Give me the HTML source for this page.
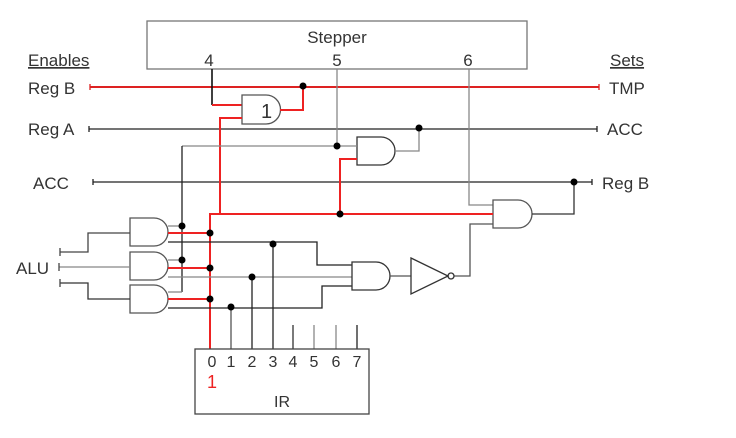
<!DOCTYPE html>
<html><head><meta charset="utf-8"><style>
html,body{margin:0;padding:0;background:#fff;width:736px;height:438px;overflow:hidden}
svg{display:block}
text{font-family:"Liberation Sans",sans-serif;fill:#333}
</style></head><body>
<svg width="736" height="438" viewBox="0 0 736 438" xmlns="http://www.w3.org/2000/svg">
<g fill="none" stroke-width="1.3">
<rect x="147" y="21" width="380" height="48" stroke="#777"/>
<line x1="90" y1="87" x2="599" y2="87" stroke="#d22" stroke-width="2"/>
<line x1="90" y1="84" x2="90" y2="90" stroke="#d22"/><line x1="599" y1="84" x2="599" y2="90" stroke="#d22"/>
<line x1="89" y1="129" x2="597" y2="129" stroke="#222"/>
<line x1="89" y1="126" x2="89" y2="132" stroke="#222"/><line x1="597" y1="126" x2="597" y2="132" stroke="#222"/>
<line x1="93" y1="182" x2="592" y2="182" stroke="#222"/>
<line x1="93" y1="179" x2="93" y2="185" stroke="#222"/><line x1="592" y1="179" x2="592" y2="185" stroke="#222"/>
<polyline points="212,69 212,105" stroke="#111" stroke-width="1.6"/>
<polyline points="212,105 242,105" stroke="#e22" stroke-width="2"/>
<polyline points="337,69 337,146" stroke="#888"/>
<polyline points="469,69 469,205 493,205" stroke="#888"/>
<path d="M242 95 h24 a14.5 14.5 0 0 1 0 29 h-24 z" stroke="#555"/>
<polyline points="280,110 303,110 303,87" stroke="#e22" stroke-width="2"/>
<polyline points="242,118 220,118 220,214" stroke="#e22" stroke-width="2"/>
<path d="M357 137 h24 a14 14 0 0 1 0 28 h-24 z" stroke="#333"/>
<polyline points="395,151 419,151 419,129" stroke="#888"/>
<polyline points="182,146 357,146" stroke="#888"/>
<line x1="182" y1="146" x2="182" y2="292" stroke="#222"/>
<polyline points="357,159 340,159 340,214" stroke="#e22" stroke-width="2"/>
<path d="M493 200 h25 a14 14 0 0 1 0 28 h-25 z" stroke="#555"/>
<polyline points="532,214 574,214 574,182" stroke="#333"/>
<polyline points="493,224 470,224 470,276 454,276" stroke="#555"/>
<polyline points="210,349 210,214 493,214" stroke="#e22" stroke-width="2"/>
<path d="M130 218 h24 a14 14 0 0 1 0 28 h-24 z" stroke="#555"/>
<path d="M130 252 h24 a14 14 0 0 1 0 28 h-24 z" stroke="#555"/>
<path d="M130 285 h24 a14 14 0 0 1 0 28 h-24 z" stroke="#555"/>
<polyline points="60,252 88,252 88,233 130,233" stroke="#444"/>
<line x1="60" y1="248" x2="60" y2="256" stroke="#444"/>
<line x1="59" y1="267" x2="130" y2="267" stroke="#888"/>
<line x1="59" y1="263" x2="59" y2="271" stroke="#444"/>
<polyline points="60,283 88,283 88,299 130,299" stroke="#333"/>
<line x1="60" y1="279" x2="60" y2="287" stroke="#444"/>
<line x1="168" y1="226" x2="182" y2="226" stroke="#888"/>
<line x1="168" y1="233" x2="210" y2="233" stroke="#e22" stroke-width="2"/>
<polyline points="168,242 317,242 317,265 352,265" stroke="#222"/>
<line x1="168" y1="260" x2="182" y2="260" stroke="#888"/>
<line x1="168" y1="268" x2="210" y2="268" stroke="#e22" stroke-width="2"/>
<line x1="168" y1="277" x2="352" y2="277" stroke="#888"/>
<line x1="168" y1="292" x2="182" y2="292" stroke="#888"/>
<line x1="168" y1="299" x2="210" y2="299" stroke="#e22" stroke-width="2"/>
<polyline points="168,308 322,308 322,286 352,286" stroke="#222"/>
<path d="M352 262 h24 a14 14 0 0 1 0 28 h-24 z" stroke="#333"/>
<line x1="390" y1="276" x2="411" y2="276" stroke="#555"/>
<path d="M411 258 L448 276 L411 294 z" stroke="#333"/>
<circle cx="451" cy="276" r="3" stroke="#333"/>
<line x1="231" y1="308" x2="231" y2="349" stroke="#555"/>
<line x1="252" y1="277" x2="252" y2="349" stroke="#222"/>
<line x1="273" y1="244" x2="273" y2="349" stroke="#222"/>
<line x1="293" y1="325" x2="293" y2="349" stroke="#333"/>
<line x1="314" y1="325" x2="314" y2="349" stroke="#888"/>
<line x1="336" y1="325" x2="336" y2="349" stroke="#888"/>
<line x1="357" y1="325" x2="357" y2="349" stroke="#222"/>
<rect x="195" y="349" width="174" height="65" stroke="#444"/>
</g>
<g fill="#000">
<circle cx="303" cy="86" r="3.5"/><circle cx="419" cy="128" r="3.5"/><circle cx="337" cy="146" r="3.5"/>
<circle cx="574" cy="182" r="3.5"/><circle cx="340" cy="214" r="3.5"/>
<circle cx="182" cy="226" r="3.5"/><circle cx="182" cy="260" r="3.5"/>
<circle cx="210" cy="233" r="3.5"/><circle cx="210" cy="268" r="3.5"/><circle cx="210" cy="299" r="3.5"/>
<circle cx="273" cy="244" r="3.5"/><circle cx="252" cy="277" r="3.5"/><circle cx="231" cy="307" r="3.5"/>
</g>
<g font-size="17">
<text x="337" y="43" text-anchor="middle">Stepper</text>
<text x="209" y="66" text-anchor="middle">4</text>
<text x="337" y="66" text-anchor="middle">5</text>
<text x="468" y="66" text-anchor="middle">6</text>
<text x="28" y="66" text-decoration="underline">Enables</text>
<text x="610" y="66" text-decoration="underline">Sets</text>
<text x="28" y="94">Reg B</text>
<text x="28" y="135">Reg A</text>
<text x="33" y="189">ACC</text>
<text x="609" y="94">TMP</text>
<text x="607" y="135">ACC</text>
<text x="602" y="189">Reg B</text>
<text x="16" y="274">ALU</text>
</g>
<g font-size="16">
<text x="212" y="367" text-anchor="middle">0</text>
<text x="231" y="367" text-anchor="middle">1</text>
<text x="252" y="367" text-anchor="middle">2</text>
<text x="273" y="367" text-anchor="middle">3</text>
<text x="293" y="367" text-anchor="middle">4</text>
<text x="314" y="367" text-anchor="middle">5</text>
<text x="336" y="367" text-anchor="middle">6</text>
<text x="357" y="367" text-anchor="middle">7</text>
<text x="282" y="407" text-anchor="middle">IR</text>
<text x="212" y="388" text-anchor="middle" style="fill:#e22" font-family="Liberation Mono" font-size="18">1</text>
</g>
<text x="261" y="118" font-family="Liberation Sans" font-size="20">1</text>
</svg>
</body></html>
